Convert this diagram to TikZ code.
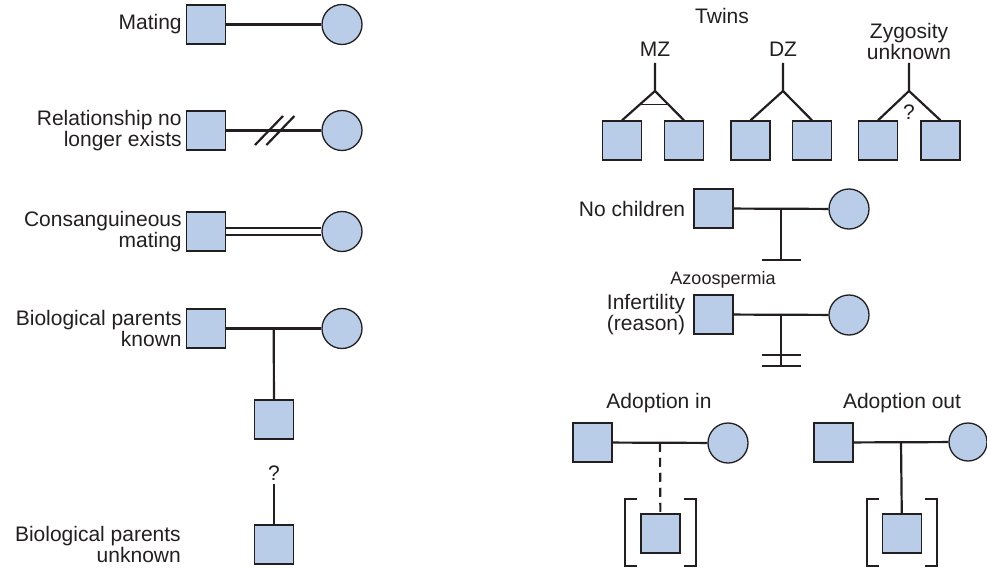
\documentclass[tikz,border=0pt]{standalone}
\usepackage{fontspec}
\setmainfont{Liberation Sans}
\usetikzlibrary{positioning,calc}
\definecolor{symblue}{RGB}{185,205,233}
\definecolor{inkgray}{RGB}{35,31,32}
\newcommand{\lblfont}{\fontsize{21}{21}\selectfont}
\newcommand{\notefont}{\fontsize{18}{18}\selectfont}

\begin{document}
\begin{tikzpicture}[x=1pt,y=-1pt,node distance=4pt,
    every node/.style={font=\lblfont,text=inkgray},
    male/.style={draw=inkgray,fill=symblue,line width=1.3pt,minimum size=39pt,inner sep=0pt},
    female/.style={male,circle,minimum size=40pt},
    lbl/.style={align=right,inner sep=0pt},
    link/.style={draw=inkgray,line width=2.2pt},
    bar/.style={draw=inkgray,line width=1.3pt}]
  \clip (0,0) rectangle (987,569);

  % left column
  \node[male]   (mate)  at (206,24.5) {};
  \node[female] (matef) at (342,24.5) {};
  \node[lbl,left=of mate] {Mating};
  \draw[link] (mate) -- (matef);

  \node[male]   (sep)  at (206,130.5) {};
  \node[female] (sepf) at (342,130.5) {};
  \node[lbl,left=of sep] {Relationship no\\longer exists};
  \draw[link] (sep) -- (sepf);
  \draw[link] ($(sep.east)!0.45!(sepf.west)$) ++(-14,14.5) -- ++(28,-29);
  \draw[link] ($(sep.east)!0.57!(sepf.west)$) ++(-14,14.5) -- ++(28,-29);

  \node[male]   (cons)  at (206,231.5) {};
  \node[female] (consf) at (342,231.5) {};
  \node[lbl,left=of cons] {Consanguineous\\mating};
  \draw[link] ([yshift=-3.5pt]cons.east) -- ([yshift=-3.5pt]consf.west);
  \draw[link] ([yshift=3.5pt]cons.east) -- ([yshift=3.5pt]consf.west);

  \node[male]   (bio)  at (206,328.5) {};
  \node[female] (biof) at (342,328.5) {};
  \node[male]   (bioc) at (274,419.5) {};
  \node[lbl,left=of bio] {Biological parents\\known};
  \draw[link] (bio) -- (biof);
  \draw[link] ($(bio.east)!0.5!(biof.west)$) -- (bioc);

  \node (unkq) at (274,473) {?};
  \node[male] (unkc) at (274,544.5) {};
  \node[lbl,anchor=east] at (181,544) {Biological parents\\unknown};
  \draw[link] (unkq.south) -- (unkc);

  % twins
  \node at (722,16) {Twins};
  \node (mz) at (655,49) {MZ};
  \node (dz) at (783,49) {DZ};
  \node[align=center,inner sep=0pt] (zu) at (909,41) {Zygosity\\unknown};
  \coordinate (mzT) at (655,63);  \coordinate (mzA) at (655,91);
  \coordinate (dzT) at (783,63);  \coordinate (dzA) at (783,91);
  \coordinate (zuT) at (909,63);  \coordinate (zuA) at (909,91);
  \node[male] (mz1) at (622,140.5) {};
  \node[male] (mz2) at (684,140.5) {};
  \node[male] (dz1) at (750.5,140.5) {};
  \node[male] (dz2) at (812,140.5) {};
  \node[male] (zu1) at (878,140.5) {};
  \node[male] (zu2) at (940.5,140.5) {};
  \draw[link] (mzT) -- (mzA) -- (mz1.north) (mzA) -- (mz2.north);
  \draw[bar] ($(mzA)!0.47!(mz1.north)$) -- ($(mzA)!0.47!(mz2.north)$);
  \draw[link] (dzT) -- (dzA) -- (dz1.north) (dzA) -- (dz2.north);
  \draw[link] (zuT) -- (zuA) -- (zu1.north) (zuA) -- (zu2.north);
  \node at (909,112) {?};

  % no children / infertility
  \node[male]   (noc)  at (713.5,208.5) {};
  \node[female] (nocf) at (849,209) {};
  \node[lbl,left=8pt of noc] {No children};
  \draw[link] (noc) -- (nocf);
  \coordinate (nocB) at (781,260);
  \draw[link] ($(noc.east)!0.5!(nocf.west)$) -- (nocB);
  \draw[link] ([xshift=-19.5pt]nocB) -- ([xshift=19.5pt]nocB);

  \node[male]   (inf)  at (713.5,314.5) {};
  \node[female] (inff) at (849,315) {};
  \node[lbl,left=8pt of inf] {Infertility\\(reason)};
  \node[font=\notefont] at (723,280) {Azoospermia};
  \draw[link] (inf) -- (inff);
  \coordinate (infB) at (781,366);
  \draw[link] ($(inf.east)!0.5!(inff.west)$) -- (infB);
  \draw[link] ([xshift=-19.5pt]infB) -- ([xshift=19.5pt]infB);
  \draw[link] ([xshift=-19.5pt,yshift=11pt]infB) -- ([xshift=19.5pt,yshift=11pt]infB);

  % adoption
  \node at (659,403) {Adoption in};
  \node[male]   (adi)  at (592.5,442.5) {};
  \node[female] (adif) at (728,443) {};
  \node[male]   (adic) at (660.5,533.5) {};
  \draw[link] (adi) -- (adif);
  \draw[link,dash pattern=on 9pt off 6pt] ($(adi.east)!0.5!(adif.west)$) -- (adic);
  \draw[link] ($(adic.north west)+(-3,-14)$) -- ++(-12,0) -- ++(0,67) -- ++(12,0);
  \draw[link] ($(adic.north east)+(3,-14)$) -- ++(12,0) -- ++(0,67) -- ++(-12,0);

  \node at (902,403) {Adoption out};
  \node[male]   (ado)  at (833.5,442.5) {};
  \node[female,minimum size=38pt] (adof) at (968,442) {};
  \node[male]   (adoc) at (902,533.5) {};
  \draw[link] (ado) -- (adof);
  \draw[link] ($(ado.east)!0.5!(adof.west)$) -- (adoc);
  \draw[link] ($(adoc.north west)+(-3,-14)$) -- ++(-12,0) -- ++(0,67) -- ++(12,0);
  \draw[link] ($(adoc.north east)+(3,-14)$) -- ++(12,0) -- ++(0,67) -- ++(-12,0);
\end{tikzpicture}
\end{document}
